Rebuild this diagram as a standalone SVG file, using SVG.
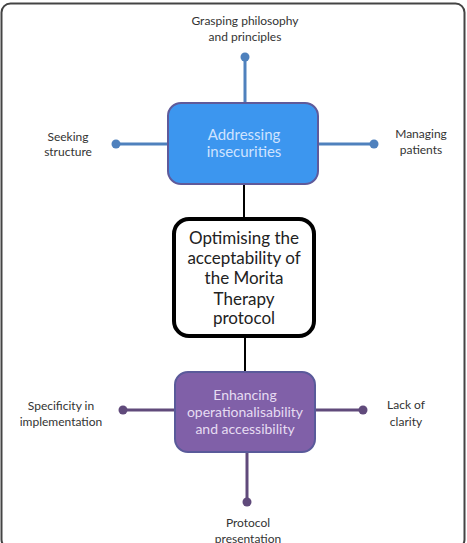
<svg xmlns="http://www.w3.org/2000/svg" width="467" height="543" viewBox="0 0 467 543">
<style>
text{font-family:Lato,"Open Sans","Liberation Sans",sans-serif;text-anchor:middle}
.lbl{font-size:12px;fill:#333}
.blue{stroke:#4f81bd;stroke-width:3;fill:none}
.purp{stroke:#604a7b;stroke-width:3;fill:none}
.bdot{fill:#4f81bd}
.pdot{fill:#604a7b}
</style>
<rect x="1.5" y="3.5" width="463" height="545" rx="9" fill="#fff" stroke="#444" stroke-width="2"/>
<g id="connectors">
<line x1="245" y1="57" x2="245" y2="103" class="blue"/>
<line x1="116" y1="144" x2="168" y2="144" class="blue"/>
<line x1="318" y1="144" x2="374" y2="144" class="blue"/>
<circle cx="245" cy="57" r="4.5" class="bdot"/>
<circle cx="116" cy="144" r="4.5" class="bdot"/>
<circle cx="374" cy="144" r="4.5" class="bdot"/>
<line x1="244" y1="184" x2="244" y2="218" stroke="#000" stroke-width="2"/>
<line x1="245" y1="337" x2="245" y2="373" stroke="#000" stroke-width="2"/>
<line x1="123" y1="410" x2="175" y2="410" class="purp"/>
<line x1="315" y1="410" x2="363" y2="410" class="purp"/>
<line x1="247" y1="452" x2="247" y2="502" class="purp"/>
<circle cx="123" cy="410" r="4.5" class="pdot"/>
<circle cx="363" cy="410" r="4.5" class="pdot"/>
<circle cx="247" cy="502" r="4.5" class="pdot"/>
</g>
<g id="addressing">
<rect x="168" y="103" width="150" height="81" rx="13" fill="#3c96ef" stroke="#5f5a9a" stroke-width="2"/>
<text x="244" y="140" font-size="15" fill="#cfe3ff">Addressing</text>
<text x="244" y="157" font-size="15" fill="#cfe3ff">insecurities</text>
</g>
<g id="grasping">
<text class="lbl" x="245" y="25">Grasping philosophy</text>
<text class="lbl" x="245" y="41">and principles</text>
</g>
<g id="seeking">
<text class="lbl" x="68" y="141">Seeking</text>
<text class="lbl" x="68" y="156">structure</text>
</g>
<g id="managing">
<text class="lbl" x="421" y="138">Managing</text>
<text class="lbl" x="421" y="154">patients</text>
</g>
<g id="optimising">
<rect x="174" y="219" width="140" height="117" rx="15" fill="#fff" stroke="#000" stroke-width="4"/>
<text x="244" y="244" font-size="17" fill="#222">Optimising the</text>
<text x="244" y="264" font-size="17" fill="#222">acceptability of</text>
<text x="244" y="284" font-size="17" fill="#222">the Morita</text>
<text x="244" y="305" font-size="17" fill="#222">Therapy</text>
<text x="244" y="324" font-size="17" fill="#222">protocol</text>
</g>
<g id="enhancing">
<rect x="175" y="372" width="140" height="80" rx="13" fill="#8060a8" stroke="#5a5a9a" stroke-width="2"/>
<text x="245" y="400" font-size="14" fill="#e6dcf2">Enhancing</text>
<text x="245" y="417" font-size="14" fill="#e6dcf2">operationalisability</text>
<text x="245" y="434" font-size="14" fill="#e6dcf2">and accessibility</text>
</g>
<g id="specificity">
<text class="lbl" x="61" y="410">Specificity in</text>
<text class="lbl" x="61" y="426">implementation</text>
</g>
<g id="lack">
<text class="lbl" x="406" y="409">Lack of</text>
<text class="lbl" x="406" y="426">clarity</text>
</g>
<g id="protocol">
<text class="lbl" x="248" y="527">Protocol</text>
<text class="lbl" x="248" y="543">presentation</text>
</g>
</svg>
